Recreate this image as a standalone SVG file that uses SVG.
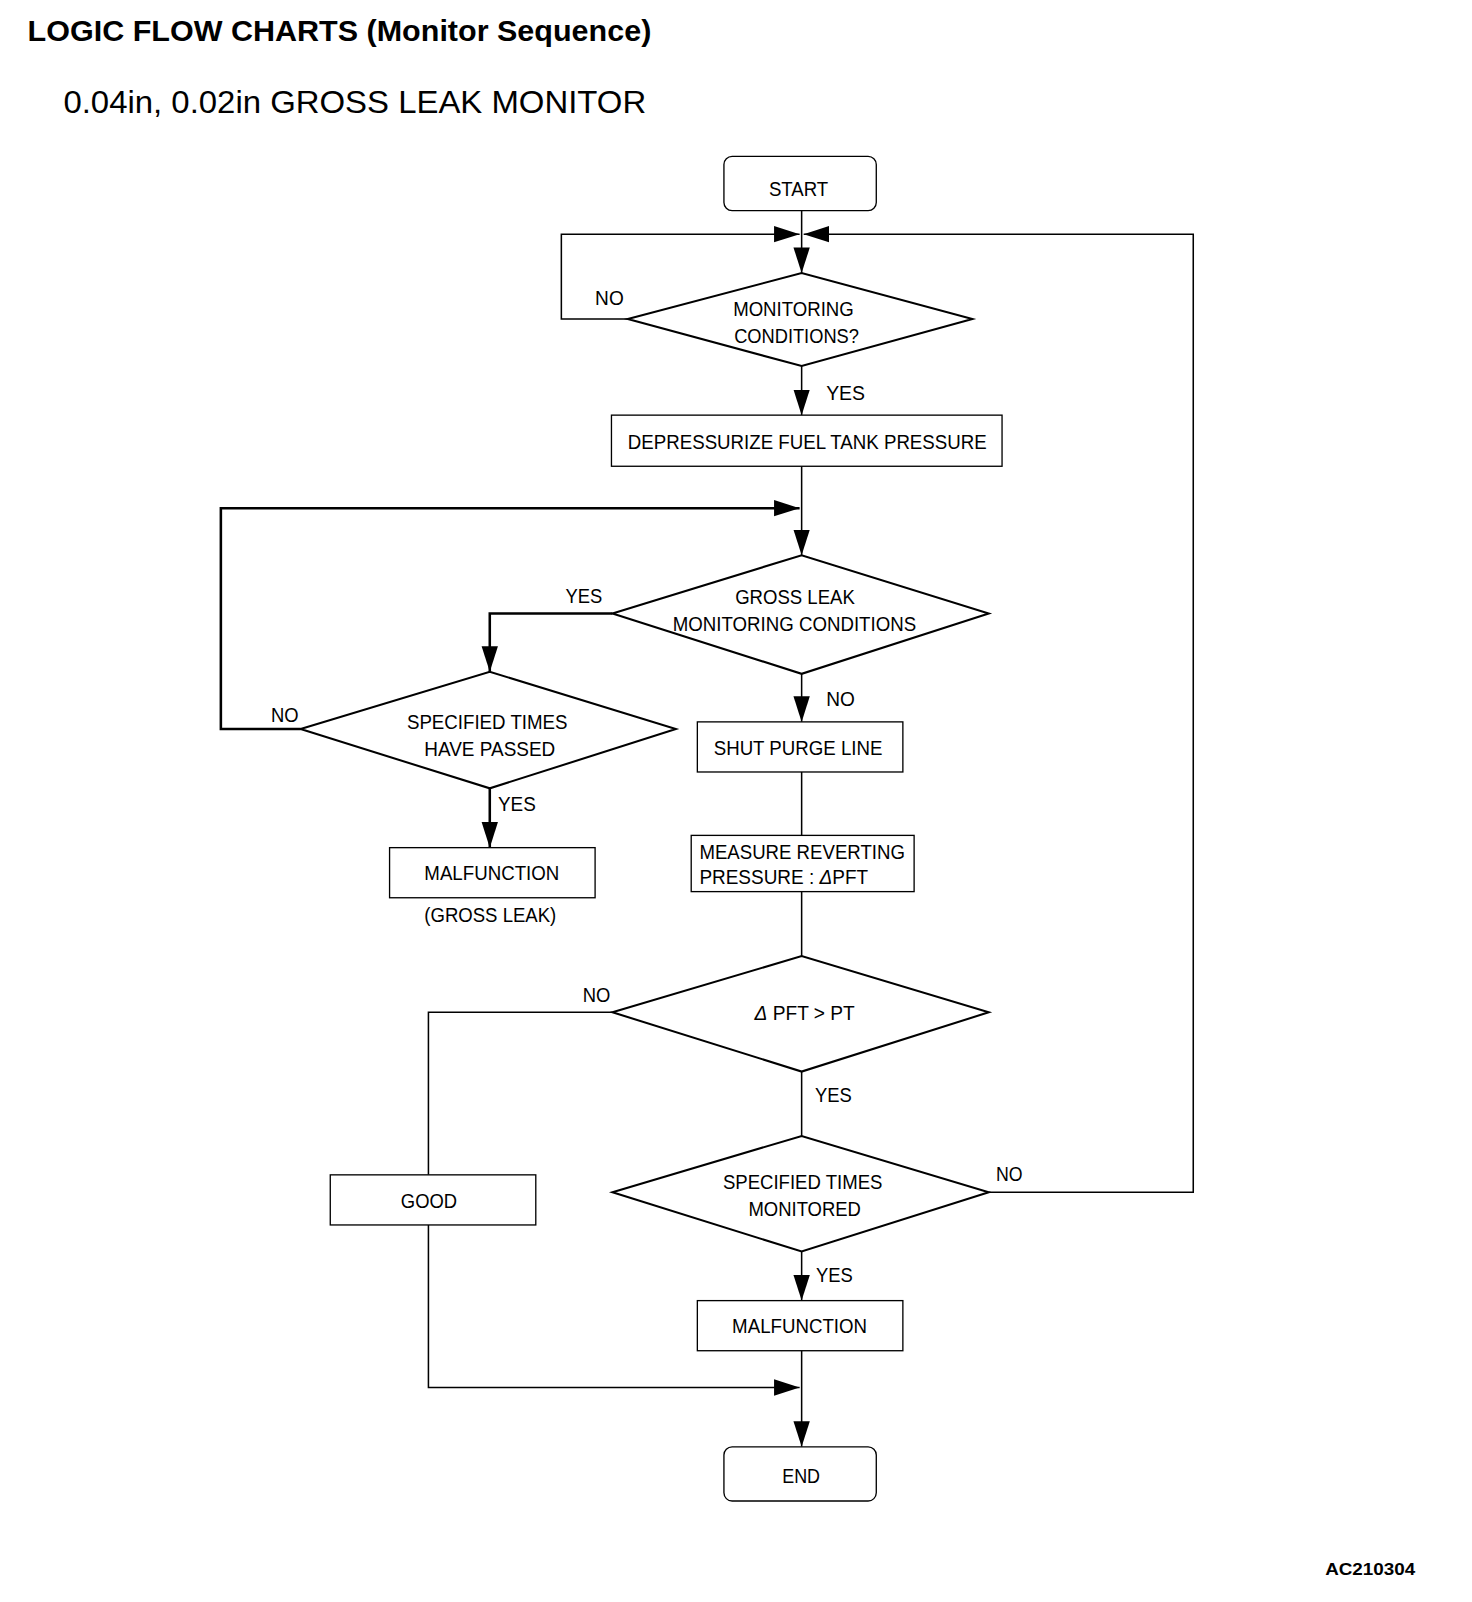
<svg xmlns="http://www.w3.org/2000/svg" width="1472" height="1602" viewBox="0 0 1472 1602">
<style>
text{font-family:"Liberation Sans",Arial,sans-serif;fill:#000}
.t{font-size:20px}
.box{fill:#fff;stroke:#000;stroke-width:1.3}
.dia{fill:#fff;stroke:#000;stroke-width:2}
.ln{fill:none;stroke:#000;stroke-width:1.5}
.lk{fill:none;stroke:#000;stroke-width:2.5}
</style>
<defs>
<marker id="ah" markerUnits="userSpaceOnUse" markerWidth="26" markerHeight="18" refX="25" refY="8" orient="auto" viewBox="0 0 26 16">
<path d="M0,0 L25,8 L0,16 z" fill="#000"/>
</marker>
</defs>
<rect width="1472" height="1602" fill="#fff"/>
<g transform="scale(1.0225)">
<text x="27" y="40" font-size="28" font-weight="bold" textLength="610" lengthAdjust="spacingAndGlyphs">LOGIC FLOW CHARTS (Monitor Sequence)</text>
<text x="62" y="111" font-size="30" textLength="570" lengthAdjust="spacingAndGlyphs">0.04in, 0.02in GROSS LEAK MONITOR</text>

<g id="connectors">
<line class="ln" x1="784" y1="206" x2="784" y2="267" marker-end="url(#ah)"/>
<polyline class="ln" points="614,312 549,312 549,229 782,229" marker-end="url(#ah)"/>
<polyline class="ln" points="967,1166 1167,1166 1167,229 786,229" marker-end="url(#ah)"/>
<line class="ln" x1="784" y1="358" x2="784" y2="406" marker-end="url(#ah)"/>
<line class="ln" x1="784" y1="456" x2="784" y2="543" marker-end="url(#ah)"/>
<polyline class="lk" points="294,713 216,713 216,497 782,497" marker-end="url(#ah)"/>
<polyline class="lk" points="599,600 479,600 479,657" marker-end="url(#ah)"/>
<line class="lk" x1="479" y1="771" x2="479" y2="829" marker-end="url(#ah)"/>
<line class="ln" x1="784" y1="659" x2="784" y2="706" marker-end="url(#ah)"/>
<line class="ln" x1="784" y1="755" x2="784" y2="817"/>
<line class="ln" x1="784" y1="872" x2="784" y2="935"/>
<polyline class="ln" points="599,990 419,990 419,1149"/>
<polyline class="ln" points="419,1198 419,1357 782,1357" marker-end="url(#ah)"/>
<line class="ln" x1="784" y1="1048" x2="784" y2="1111"/>
<line class="ln" x1="784" y1="1224" x2="784" y2="1272" marker-end="url(#ah)"/>
<line class="ln" x1="784" y1="1321" x2="784" y2="1415" marker-end="url(#ah)"/>
<text class="t" x="582" y="298" textLength="28" lengthAdjust="spacingAndGlyphs">NO</text>
<text class="t" x="808" y="391" textLength="38" lengthAdjust="spacingAndGlyphs">YES</text>
<text class="t" x="553" y="590" textLength="36" lengthAdjust="spacingAndGlyphs">YES</text>
<text class="t" x="265" y="706" textLength="27" lengthAdjust="spacingAndGlyphs">NO</text>
<text class="t" x="487" y="793" textLength="37" lengthAdjust="spacingAndGlyphs">YES</text>
<text class="t" x="808" y="690" textLength="28" lengthAdjust="spacingAndGlyphs">NO</text>
<text class="t" x="570" y="980" textLength="27" lengthAdjust="spacingAndGlyphs">NO</text>
<text class="t" x="797" y="1078" textLength="36" lengthAdjust="spacingAndGlyphs">YES</text>
<text class="t" x="974" y="1155" textLength="26" lengthAdjust="spacingAndGlyphs">NO</text>
<text class="t" x="798" y="1254" textLength="36" lengthAdjust="spacingAndGlyphs">YES</text>
</g>

<g id="start">
<rect class="box" x="708" y="153" width="149" height="53" rx="8"/>
<text class="t" x="752" y="192" textLength="58" lengthAdjust="spacingAndGlyphs">START</text>
</g>
<g id="monitoring-conditions">
<polygon class="dia" points="614,312 784,267 951,312 784,358"/>
<text class="t" x="717" y="309" textLength="118" lengthAdjust="spacingAndGlyphs">MONITORING</text>
<text class="t" x="718" y="335" textLength="122" lengthAdjust="spacingAndGlyphs">CONDITIONS?</text>
</g>
<g id="depressurize">
<rect class="box" x="598" y="406" width="382" height="50"/>
<text class="t" x="614" y="439" textLength="351" lengthAdjust="spacingAndGlyphs">DEPRESSURIZE FUEL TANK PRESSURE</text>
</g>
<g id="gross-leak-conditions">
<polygon class="dia" points="599,600 784,543 967,600 784,659"/>
<text class="t" x="719" y="591" textLength="117" lengthAdjust="spacingAndGlyphs">GROSS LEAK</text>
<text class="t" x="658" y="617" textLength="238" lengthAdjust="spacingAndGlyphs">MONITORING CONDITIONS</text>
</g>
<g id="specified-times-passed">
<polygon class="dia" points="294,713 479,657 661,713 479,771"/>
<text class="t" x="398" y="713" textLength="157" lengthAdjust="spacingAndGlyphs">SPECIFIED TIMES</text>
<text class="t" x="415" y="739" textLength="128" lengthAdjust="spacingAndGlyphs">HAVE PASSED</text>
</g>
<g id="malfunction-gross">
<rect class="box" x="381" y="829" width="201" height="49"/>
<text class="t" x="415" y="861" textLength="132" lengthAdjust="spacingAndGlyphs">MALFUNCTION</text>
<text class="t" x="415" y="902" textLength="129" lengthAdjust="spacingAndGlyphs">(GROSS LEAK)</text>
</g>
<g id="shut-purge">
<rect class="box" x="682" y="706" width="201" height="49"/>
<text class="t" x="698" y="738" textLength="165" lengthAdjust="spacingAndGlyphs">SHUT PURGE LINE</text>
</g>
<g id="measure">
<rect class="box" x="676" y="817" width="218" height="55"/>
<text x="684" y="840" font-size="19" textLength="201" lengthAdjust="spacingAndGlyphs">MEASURE REVERTING</text>
<text x="684" y="865" font-size="19" textLength="165" lengthAdjust="spacingAndGlyphs">PRESSURE : <tspan font-style="italic">Δ</tspan>PFT</text>
</g>
<g id="delta-pft">
<polygon class="dia" points="599,990 784,935 967,990 784,1048"/>
<text class="t" x="738" y="998" textLength="98" lengthAdjust="spacingAndGlyphs"><tspan font-style="italic">Δ</tspan> PFT &gt; PT</text>
</g>
<g id="good">
<rect class="box" x="323" y="1149" width="201" height="49"/>
<text class="t" x="392" y="1181" textLength="55" lengthAdjust="spacingAndGlyphs">GOOD</text>
</g>
<g id="specified-times-monitored">
<polygon class="dia" points="599,1166 784,1111 967,1166 784,1224"/>
<text class="t" x="707" y="1163" textLength="156" lengthAdjust="spacingAndGlyphs">SPECIFIED TIMES</text>
<text class="t" x="732" y="1189" textLength="110" lengthAdjust="spacingAndGlyphs">MONITORED</text>
</g>
<g id="malfunction">
<rect class="box" x="682" y="1272" width="201" height="49"/>
<text class="t" x="716" y="1304" textLength="132" lengthAdjust="spacingAndGlyphs">MALFUNCTION</text>
</g>
<g id="end">
<rect class="box" x="708" y="1415" width="149" height="53" rx="8"/>
<text class="t" x="765" y="1450" textLength="37" lengthAdjust="spacingAndGlyphs">END</text>
</g>
<text x="1296" y="1540" font-size="17" font-weight="bold" textLength="88" lengthAdjust="spacingAndGlyphs">AC210304</text>
</g>
</svg>
